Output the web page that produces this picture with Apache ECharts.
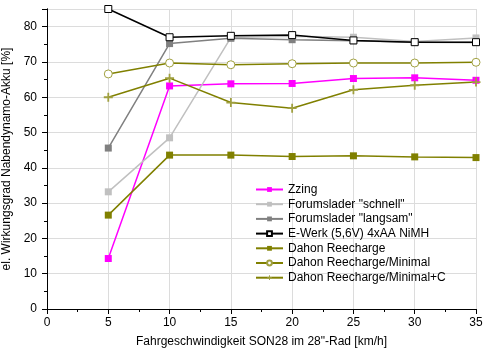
<!DOCTYPE html>
<html><head><meta charset="utf-8">
<script src="https://cdn.jsdelivr.net/npm/echarts@6/dist/echarts.min.js"></script>
<style>html,body{margin:0;padding:0;background:#fff}#c{width:487px;height:355px}</style>
</head><body><div id="c"></div>
<script>
const speeds = [5, 10, 15, 20, 25, 30, 35];
const zzing = [14.3, 63.2, 63.8, 63.9, 65.3, 65.5, 64.8];
const forumSchnell = [33.2, 48.5, 76.9, 77.3, 77.0, 75.8, 76.8];
const forumLangsam = [45.6, 75.2, 76.7, 76.3, 76.0, 75.6, 75.5];
const eWerk = [85.0, 77.0, 77.4, 77.6, 76.1, 75.6, 75.6];
const dahon = [26.6, 43.6, 43.6, 43.2, 43.4, 43.1, 42.9];
const dahonMinimal = [66.6, 69.7, 69.2, 69.5, 69.7, 69.7, 69.9];
const dahonMinimalC = [60.0, 65.4, 58.5, 56.9, 62.1, 63.4, 64.3];
const names = ['Zzing', 'Forumslader "schnell"', 'Forumslader "langsam"', 'E-Werk (5,6V) 4xAA NiMH', 'Dahon Reecharge', 'Dahon Reecharge/Minimal', 'Dahon Reecharge/Minimal+C'];
const xTicks = [0, 5, 10, 15, 20, 25, 30, 35];
const yTicks = [0, 10, 20, 30, 40, 50, 60, 70, 80];

const pts = arr => speeds.map((s, i) => [s, arr[i]]);
const olive = '#808000';
const plusPath = 'path://M4,0H6V4H10V6H6V10H4V6H0V4H4Z';
const font = 'Liberation Sans, Arial, sans-serif';

function mk(name, data, color, symbol, size, itemStyle) {
  return {
    name, type: 'line', data: pts(data), symbol, symbolSize: size,
    lineStyle: { color, width: 1.5 },
    itemStyle: itemStyle || { color },
    emphasis: { disabled: true }, animation: false
  };
}

const chart = echarts.init(document.getElementById('c'));
const axisCommon = {
  axisLine: { lineStyle: { color: '#000', width: 1 } },
  axisTick: { lineStyle: { color: '#000' }, length: 5 },
  minorTick: { show: true, splitNumber: 2, length: 3, lineStyle: { color: '#000' } }
};
chart.setOption({
  animation: false,
  textStyle: { fontFamily: font },
  grid: { left: 47, right: 11, top: 9, bottom: 46, outerBoundsMode: 'none', containLabel: false },
  legend: {
    orient: 'vertical', left: 255, top: 183, padding: 0,
    itemWidth: 27, itemHeight: 6, itemGap: 1.7,
    textStyle: { fontSize: 12, color: '#000', fontFamily: font, lineHeight: 13 },
    data: names
  },
  xAxis: [{
    type: 'value', min: 0, max: 35, interval: 5, position: 'bottom',
    name: 'Fahrgeschwindigkeit SON28 im 28"-Rad [km/h]', nameLocation: 'middle', nameGap: 27,
    nameTextStyle: { fontSize: 12, color: '#000' },
    axisLabel: { fontSize: 12, color: '#000', margin: 8, formatter: v => xTicks.includes(v) ? String(v) : '' },
    splitLine: { show: true, lineStyle: { color: '#dcdcdc', width: 1 } },
    ...axisCommon
  }, {
    type: 'value', min: 0, max: 35, interval: 5, position: 'top',
    axisLabel: { show: false }, splitLine: { show: false },
    ...axisCommon, axisTick: { inside: true, length: 5, lineStyle: { color: '#000' } },
    minorTick: { show: true, splitNumber: 2, length: 3, lineStyle: { color: '#000' } }
  }],
  yAxis: [{
    type: 'value', min: 0, max: 85, interval: 10, position: 'left',
    name: 'el. Wirkungsgrad Nabendynamo-Akku [%]', nameLocation: 'middle', nameGap: 31,
    nameTextStyle: { fontSize: 12, color: '#000' },
    axisLabel: { fontSize: 12, color: '#000', margin: 10, showMaxLabel: false, formatter: v => yTicks.includes(v) ? String(v) : '' },
    splitLine: { show: true, lineStyle: { color: '#dcdcdc', width: 1 } },
    ...axisCommon
  }, {
    type: 'value', min: 0, max: 85, interval: 10, position: 'right',
    axisLabel: { show: false }, splitLine: { show: false },
    ...axisCommon, axisTick: { inside: true, length: 5, lineStyle: { color: '#000' } },
    minorTick: { show: true, splitNumber: 2, length: 3, lineStyle: { color: '#000' } }
  }],
  series: [
    mk(names[0], zzing, '#ff00ff', 'rect', 7),
    mk(names[1], forumSchnell, '#c0c0c0', 'rect', 7),
    mk(names[2], forumLangsam, '#808080', 'rect', 7),
    mk(names[3], eWerk, '#000000', 'rect', 7, { color: '#fff', borderColor: '#000', borderWidth: 1 }),
    mk(names[4], dahon, olive, 'rect', 7),
    mk(names[5], dahonMinimal, olive, 'circle', 8, { color: '#fff', borderColor: '#a0a040', borderWidth: 1 }),
    mk(names[6], dahonMinimalC, olive, plusPath, 9, { color: '#a0a040' })
  ]
});
</script>
</body></html>
